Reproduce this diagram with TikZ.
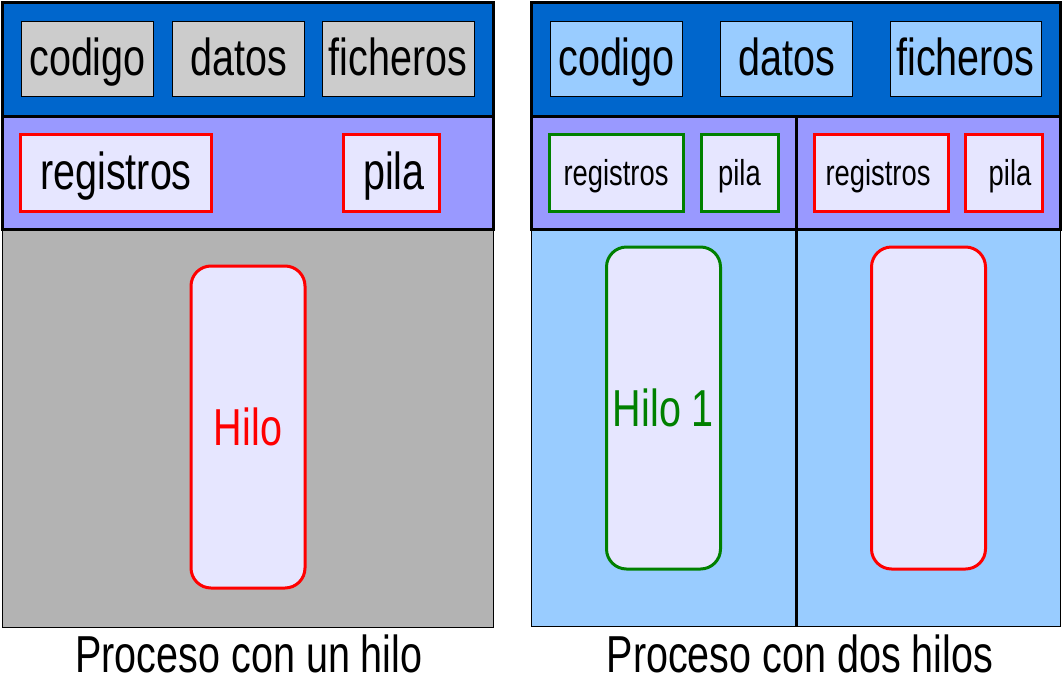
\documentclass[tikz,border=0pt]{standalone}
\usepackage{fontspec}
\setmainfont{Liberation Sans}[FakeStretch=0.76]
\definecolor{dkblue}{HTML}{0066CC}
\definecolor{purp}{HTML}{9999FF}
\definecolor{grayarea}{HTML}{B3B3B3}
\definecolor{graybox}{HTML}{CCCCCC}
\definecolor{ltblue}{HTML}{99CCFF}
\definecolor{lav}{HTML}{E6E6FF}
\definecolor{hred}{HTML}{FF0000}
\definecolor{hgreen}{HTML}{008000}
\begin{document}
\begin{tikzpicture}[x=1pt,y=-1pt,
  thickline/.style={draw=black,line width=3pt},
  thinline/.style={draw=black,line width=1pt},
  bigfont/.style={font=\fontsize{52}{62}\selectfont},
  smallfont/.style={font=\fontsize{36}{43}\selectfont},
  topbox/.style={thinline,bigfont,inner sep=0pt,text height=37pt,text depth=4pt,minimum height=75pt},
  regbig/.style={draw=hred,line width=3pt,fill=lav,bigfont,inner sep=0pt,text height=37pt,text depth=4pt,minimum height=77pt},
  regsmall/.style={line width=3pt,fill=lav,smallfont,inner sep=0pt,text height=26pt,text depth=0pt,minimum height=77pt},
  hilobox/.style={line width=3pt,fill=lav,rounded corners=20pt,bigfont,inner sep=0pt,minimum width=114pt,minimum height=322pt},
  caption/.style={bigfont,anchor=base,inner sep=0pt}]
\useasboundingbox (0,0) rectangle (1063,683);
% left process
\filldraw[fill=grayarea,thinline] (2.5,229) rectangle (493,627);
\filldraw[fill=purp,thickline] (2.5,116) rectangle (493,229);
\filldraw[fill=dkblue,thickline] (2.5,2.5) rectangle (493,116);
\node[topbox,fill=graybox,minimum width=132pt] (lcod) at (87.5,58.5) {codigo};
\node[topbox,fill=graybox,minimum width=132pt] (ldat) at (238.5,58.5) {datos};
\node[topbox,fill=graybox,minimum width=152pt] (lfic) at (398,58.5) {ficheros};
\node[regbig,minimum width=191pt] (lreg) at (116,172.5) {registros};
\node[regbig,minimum width=96pt] (lpil) at (391,172.5) {\hspace*{6pt}pila};
\node[hilobox,draw=hred,text=hred] (lhilo) at (248,427) {Hilo};
\node[caption] (lcap) at (249,672) {Proceso con un hilo};
% right process
\filldraw[fill=ltblue,thinline] (531,229) rectangle (1060,626);
\filldraw[fill=purp,thickline] (531,116) rectangle (1060,229);
\draw[thickline] (796,116) -- (796,626);
\filldraw[fill=dkblue,thickline] (531,2.5) rectangle (1060,116);
\node[topbox,fill=ltblue,minimum width=132pt] (rcod) at (616.5,58.5) {codigo};
\node[topbox,fill=ltblue,minimum width=132pt] (rdat) at (786.5,58.5) {datos};
\node[topbox,fill=ltblue,minimum width=151pt] (rfic) at (965.5,58.5) {ficheros};
\node[regsmall,draw=hgreen,minimum width=134pt] (greg) at (616,172.5) {registros};
\node[regsmall,draw=hgreen,minimum width=77pt] (gpil) at (739.5,172.5) {pila};
\node[regsmall,draw=hred,minimum width=134pt] (rreg) at (881,172.5) {\hspace*{-6pt}registros};
\node[regsmall,draw=hred,minimum width=77pt] (rpil) at (1004,172.5) {\hspace*{12pt}pila};
\node[hilobox,draw=hgreen,text=hgreen] (ghilo) at (663.5,408) {Hilo 1};
\node[hilobox,draw=hred] (rhilo) at (928.5,408) {};
\node[caption] (rcap) at (800,672) {Proceso con dos hilos};
\end{tikzpicture}
\end{document}
